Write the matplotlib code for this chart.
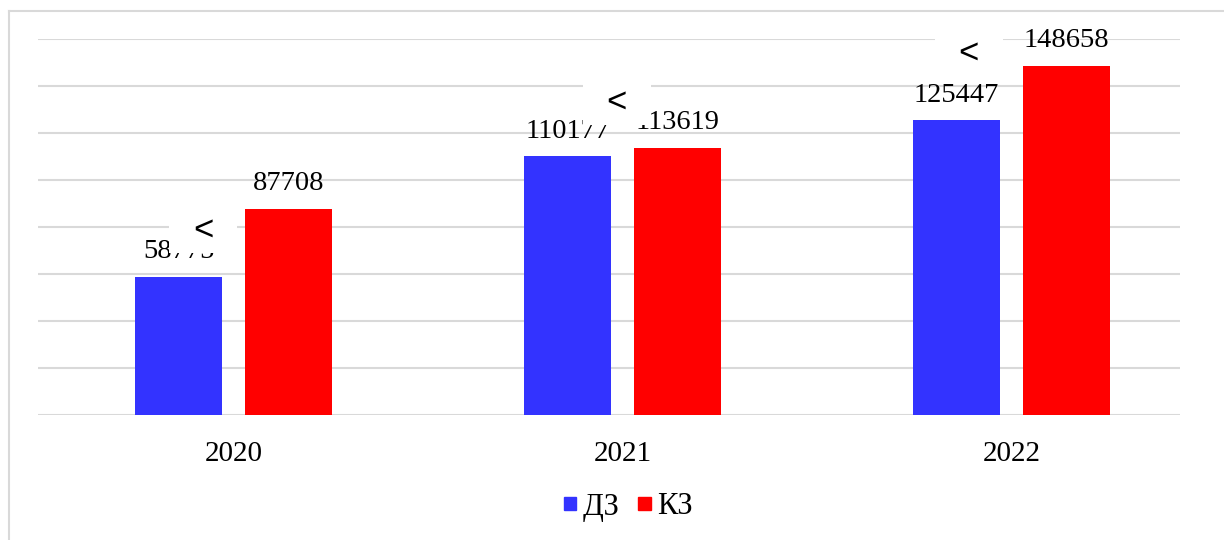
import matplotlib.pyplot as plt
from matplotlib.patches import Rectangle
from matplotlib.lines import Line2D
import numpy as np

plt.rcParams['font.family'] = ['Liberation Serif', 'DejaVu Serif']

years = ["2020", "2021", "2022"]
dz = [58775, 110177, 125447]
kz = [87708, 113619, 148658]
series_names = ["ДЗ", "КЗ"]
sign_text = "<"

blue = "#3333ff"
red = "#ff0000"
grid_color = "#d9d9d9"

bar_w = 0.224
offset = 0.1414
label_size = 20.5

fig = plt.figure(figsize=(12.24, 5.4), dpi=100)
ax = fig.add_axes([38 / 1224, 1 - 415 / 540, (1180 - 38) / 1224, (415 - 39) / 540])

x = np.arange(len(years))
b1 = ax.bar(x - offset, dz, bar_w, color=blue, zorder=3)
b2 = ax.bar(x + offset, kz, bar_w, color=red, zorder=3)

for bars in (b1, b2):
    for rect in bars:
        h = rect.get_height()
        ax.annotate(f"{h:d}", (rect.get_x() + rect.get_width() / 2, h),
                    xytext=(0, 18), textcoords="offset points",
                    ha="center", va="center", fontsize=label_size, zorder=4)

# white boxes with a comparison sign between the two bars of each year
sign_dx = [-0.078, -0.015, -0.11]
sign_y = [78700, 133200, 154000]
box_w, box_h = 0.175, 19600
for i in range(len(years)):
    cx = x[i] + sign_dx[i]
    ax.add_patch(Rectangle((cx - box_w / 2, sign_y[i] - box_h / 2), box_w, box_h,
                           facecolor="white", edgecolor="none", zorder=5))
    ax.text(cx, sign_y[i], sign_text, ha="center", va="center",
            fontsize=25, family="Liberation Sans", zorder=6)

ax.set_ylim(0, 160000)
ax.set_yticks(np.arange(0, 160001, 20000))
ax.set_xlim(-0.503, 2.433)
ax.grid(axis="y", color=grid_color, linewidth=1.5, zorder=0)
ax.set_axisbelow(True)
ax.set_xticks(x)
ax.set_xticklabels(years, fontsize=21)
ax.tick_params(axis="x", length=0, pad=19)
ax.tick_params(axis="y", left=False, labelleft=False)
for s in ax.spines.values():
    s.set_visible(False)

handles = [Rectangle((0, 0), 1, 1, color=blue), Rectangle((0, 0), 1, 1, color=red)]
fig.legend(handles, series_names, loc="center", bbox_to_anchor=(628 / 1224, 1 - 507 / 540),
           ncol=2, frameon=False, fontsize=22, handlelength=0.42, handleheight=0.3,
           handletextpad=0.2, columnspacing=0.6)

# outer chart frame
fig.add_artist(Line2D([9 / 1224, 1], [1 - 11 / 540] * 2, color=grid_color, lw=1.5))
fig.add_artist(Line2D([9 / 1224] * 2, [0, 1 - 11 / 540], color=grid_color, lw=1.5))

fig.savefig("out.png", dpi=100)
